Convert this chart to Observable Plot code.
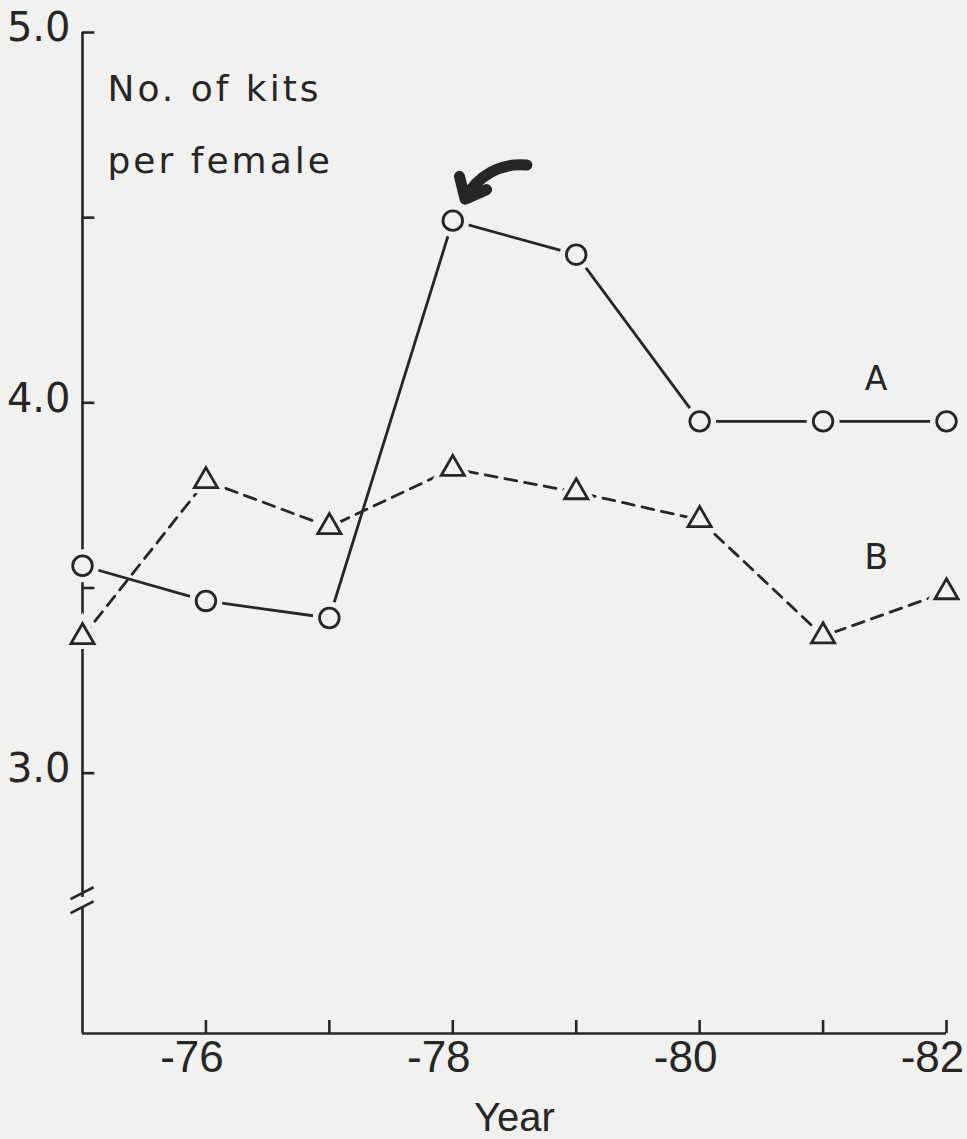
<!DOCTYPE html>
<html>
<head>
<meta charset="utf-8">
<script src="https://cdn.jsdelivr.net/npm/d3@7"></script>
<script src="https://cdn.jsdelivr.net/npm/@observablehq/plot@0.6"></script>
<style>
  html, body { margin: 0; padding: 0; background: #f1f1f0; }
  #chart svg { display: block; }
</style>
</head>
<body>
<div id="chart"></div>
<script>
// ---- data ----
const years = [1975, 1976, 1977, 1978, 1979, 1980, 1981, 1982];
const kitsA = [3.56, 3.465, 3.419, 4.492, 4.40, 3.95, 3.95, 3.95];   // circles, solid line
const kitsB = [3.368, 3.789, 3.665, 3.822, 3.759, 3.684, 3.370, 3.489]; // triangles, dashed line
const seriesNames = ["A", "B"];
const yTickValues = [3.0, 3.5, 4.0, 4.5, 5.0];
const yTickLabels = [3.0, 4.0, 5.0];
const xTickLabels = [1976, 1978, 1980, 1982];
const yLabel = "No. of kits\nper female";
const xLabel = "Year";
const yDomain = [2.297, 5.0];
const breakAt = 2.652;

const dataA = years.map((year, i) => ({year, value: kitsA[i]}));
const dataB = years.map((year, i) => ({year, value: kitsB[i]}));
const peak = dataA[d3.maxIndex(dataA, d => d.value)];
const lastA = dataA[dataA.length - 1];
const lastB = dataB[dataB.length - 1];

const bg = "#f1f1f0";
const ink = "#262626";
const sans = "'DejaVu Sans', 'Liberation Sans', sans-serif";
const narrow = "'Liberation Sans', 'DejaVu Sans', sans-serif";

const chart = Plot.plot({
  width: 967,
  height: 1139,
  marginLeft: 82,
  marginRight: 21,
  marginTop: 32,
  marginBottom: 106,
  style: {background: bg, color: ink, fontFamily: sans, overflow: "visible"},
  x: {domain: [years[0], years[years.length - 1]]},
  y: {domain: yDomain},
  marks: [
    // y axis line with break
    Plot.ruleX([years[0]], {y1: yDomain[0], y2: breakAt - 0.012, stroke: ink, strokeWidth: 2.6}),
    Plot.ruleX([years[0]], {y1: breakAt + 0.012, y2: yDomain[1], stroke: ink, strokeWidth: 2.6}),
    Plot.link([breakAt - 0.03, breakAt + 0.008], {
      x1: years[0] - 0.097, x2: years[0] + 0.09,
      y1: d => d, y2: d => d + 0.032,
      stroke: ink, strokeWidth: 2.6
    }),
    // x axis line
    Plot.ruleY([yDomain[0]], {x1: years[0], x2: years[years.length - 1], stroke: ink, strokeWidth: 2.6}),
    // inward ticks
    Plot.ruleY(yTickValues, {x1: years[0], x2: years[0] + 0.1, stroke: ink, strokeWidth: 2.6}),
    Plot.ruleX(years.slice(1), {y1: yDomain[0], y2: yDomain[0] + 0.035, stroke: ink, strokeWidth: 2.6}),
    // tick labels
    Plot.axisY(yTickLabels, {
      tickSize: 0, tickPadding: 12, fontSize: 40, dy: -4,
      tickFormat: d => d.toFixed(1), label: null, fontFamily: sans
    }),
    Plot.axisX(xTickLabels, {
      tickSize: 0, tickPadding: 7, fontSize: 44, dx: -14,
      tickFormat: d => "-" + String(d).slice(2), label: null, fontFamily: narrow
    }),
    Plot.text([xLabel], {frameAnchor: "bottom", dy: 97, fontSize: 40, lineAnchor: "bottom", fontFamily: narrow, fill: ink}),
    // y label inside frame
    Plot.text([yLabel], {
      frameAnchor: "top-left", dx: 25, dy: 17, fontSize: 36, lineHeight: 2,
      textAnchor: "start", lineAnchor: "top", fill: ink, fontFamily: sans
    }),
    // series lines
    Plot.line(dataA, {x: "year", y: "value", stroke: ink, strokeWidth: 2.8}),
    Plot.line(dataB, {x: "year", y: "value", stroke: ink, strokeWidth: 2.8, strokeDasharray: "12,8"}),
    // halos to break lines around markers
    Plot.dot(dataA, {x: "year", y: "value", r: 10, fill: bg, stroke: bg, strokeWidth: 13}),
    Plot.dot(dataB, {x: "year", y: "value", r: 8.6, symbol: "triangle", fill: bg, stroke: bg, strokeWidth: 11}),
    // markers
    Plot.dot(dataA, {x: "year", y: "value", r: 9.8, fill: bg, stroke: ink, strokeWidth: 2.8}),
    Plot.dot(dataB, {x: "year", y: "value", r: 8.6, symbol: "triangle", fill: bg, stroke: ink, strokeWidth: 2.8, strokeLinejoin: "miter"}),
    // series labels
    Plot.text([{name: seriesNames[0], ref: lastA}], {
      x: d => d.ref.year - 0.57, y: d => d.ref.value + 0.113, text: "name",
      fontSize: 33, fill: ink, fontFamily: sans
    }),
    Plot.text([{name: seriesNames[1], ref: lastB}], {
      x: d => d.ref.year - 0.57, y: d => d.ref.value + 0.093, text: "name",
      fontSize: 35, fill: ink, fontFamily: sans
    }),
    // arrow pointing at peak
    Plot.arrow([peak], {
      x1: d => d.year + 0.6, y1: d => d.value + 0.15,
      x2: d => d.year + 0.1, y2: d => d.value + 0.058,
      bend: -35, stroke: ink, strokeWidth: 11, headLength: 14, headAngle: 80
    })
  ]
});

// letter spacing for the y label
d3.select(chart).selectAll("text").filter(function() {
  return this.textContent.startsWith("No.");
}).style("letter-spacing", "3px");

document.getElementById("chart").append(chart);
</script>
</body>
</html>
